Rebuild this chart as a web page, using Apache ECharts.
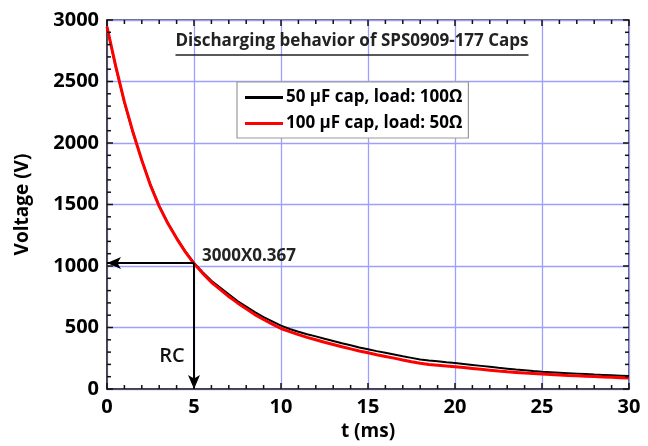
<!DOCTYPE html>
<html><head><meta charset="utf-8">
<script src="https://cdn.jsdelivr.net/npm/echarts@6/dist/echarts.min.js"></script>
<style>html,body{margin:0;padding:0;background:#fff}#c{width:648px;height:446px}</style>
</head><body><div id="c"></div>
<script>
// time samples (ms)
const tValues = [0,0.5,1,1.5,2,2.5,3,3.5,4,4.5,5,5.5,6,6.5,7,7.5,8,8.5,9,9.5,10,10.5,11,11.5,12,12.5,13,13.5,14,14.5,15,15.5,16,16.5,17,17.5,18,18.5,19,19.5,20,20.5,21,21.5,22,22.5,23,23.5,24,24.5,25,25.5,26,26.5,27,27.5,28,28.5,29,29.5,30];
// 50 uF cap, load 100 ohm (V)
const blackValues = [2940,2620,2330,2080,1860,1660,1490,1350,1230,1120,1025,950,880,825,770,715,670,625,585,550,515,488,465,445,428,408,390,372,355,338,323,308,294,280,266,253,240,232,225,218,212,204,196,188,180,172,165,158,152,146,141,137,133,129,125,121,117,114,111,108,105];
// 100 uF cap, load 50 ohm (V)
const redValues = [2945,2625,2335,2085,1860,1655,1485,1345,1225,1115,1020,940,868,810,752,700,652,605,565,528,492,466,442,420,400,380,362,343,326,309,294,279,265,251,236,222,210,200,194,187,181,174,167,160,153,146,140,135,130,126,122,118,114,110,107,104,101,98,95,92,89];
const seriesNames = ['50 \u03bcF cap, load: 100\u03a9', '100 \u03bcF cap, load: 50\u03a9'];
const xTicks = {min:0, max:30, interval:5, minor:1};
const yTicks = {min:0, max:3000, interval:500, minor:100};
// annotation: RC point
const rcPoint = [5, 1025];
const rcLabel = '3000X0.367';
const rcText = 'RC';
const titleText = 'Discharging behavior of SPS0909-177 Caps';

const FONT = 'Open Sans';
const GRID = {left:107, right:19, top:20, bottom:57};
const chart = echarts.init(document.getElementById('c'));
const pair = arr => tValues.map((t,i)=>[t, arr[i]]);
const gridLine = {show:true, lineStyle:{color:'#9e9eff', width:1.3}};
const axisLine = {show:true, onZero:false, lineStyle:{color:'#333', width:1.5}};

// inward tick marks on all four sides of the plot frame (frame decoration)
const W = 648, H = 446;
const fx0 = GRID.left, fx1 = W - GRID.right, fy0 = GRID.top, fy1 = H - GRID.bottom;
const px = x => fx0 + (x - xTicks.min) / (xTicks.max - xTicks.min) * (fx1 - fx0);
const py = y => fy1 - (y - yTicks.min) / (yTicks.max - yTicks.min) * (fy1 - fy0);
const graphics = [];
const tickStyle = {stroke:'#111', lineWidth:1.5};
const nX = Math.round((xTicks.max - xTicks.min) / xTicks.minor);
const kX = Math.round(xTicks.interval / xTicks.minor);
for (let i = 0; i <= nX; i++) {
  const len = (i % kX === 0) ? 6 : 4;
  const X = px(xTicks.min + i * xTicks.minor);
  graphics.push({type:'line', z:10, silent:true, shape:{x1:X, y1:fy1, x2:X, y2:fy1 - len}, style:tickStyle});
  graphics.push({type:'line', z:10, silent:true, shape:{x1:X, y1:fy0, x2:X, y2:fy0 + len}, style:tickStyle});
}
const nY = Math.round((yTicks.max - yTicks.min) / yTicks.minor);
const kY = Math.round(yTicks.interval / yTicks.minor);
for (let i = 0; i <= nY; i++) {
  const len = (i % kY === 0) ? 6 : 4;
  const Y = py(yTicks.min + i * yTicks.minor);
  graphics.push({type:'line', z:10, silent:true, shape:{x1:fx0, y1:Y, x2:fx0 + len, y2:Y}, style:tickStyle});
  graphics.push({type:'line', z:10, silent:true, shape:{x1:fx1, y1:Y, x2:fx1 - len, y2:Y}, style:tickStyle});
}
// title with underline
const measure = document.createElement('canvas').getContext('2d');
measure.font = 'bold 17px "' + FONT + '"';
const tw = measure.measureText(titleText).width;
const tcx = 352, tTop = 33;
graphics.push({type:'text', z:10, x:tcx, y:tTop,
  style:{text:titleText, fontFamily:FONT, fontWeight:'bold', fontSize:17, fill:'#222', align:'center', verticalAlign:'top'}});
graphics.push({type:'line', z:10, shape:{x1:tcx - tw/2, y1:tTop+22, x2:tcx + tw/2, y2:tTop+22}, style:{stroke:'#222', lineWidth:1.5}});

chart.setOption({
  animation:false,
  backgroundColor:'#fff',
  grid:Object.assign({show:true, borderColor:'#333', borderWidth:1.5, backgroundColor:'transparent'}, GRID),
  xAxis:{type:'value', min:xTicks.min, max:xTicks.max, interval:xTicks.interval,
      name:'t (ms)', nameLocation:'middle', nameGap:33,
      nameTextStyle:{fontFamily:FONT, fontWeight:'bold', fontSize:19, color:'#000'},
      axisLine:axisLine, axisTick:{show:false},
      axisLabel:{fontFamily:FONT, fontWeight:'bold', fontSize:20, color:'#000', margin:8, formatter:v=>String(v)},
      splitLine:gridLine},
  yAxis:{type:'value', min:yTicks.min, max:yTicks.max, interval:yTicks.interval,
      name:'Voltage (V)', nameLocation:'middle', nameGap:75, nameRotate:90,
      nameTextStyle:{fontFamily:FONT, fontWeight:'bold', fontSize:19, color:'#000'},
      axisLine:axisLine, axisTick:{show:false},
      axisLabel:{fontFamily:FONT, fontWeight:'bold', fontSize:20, color:'#000', margin:8, formatter:v=>String(v)},
      splitLine:gridLine},
  legend:{
    orient:'vertical', left:237, top:82, padding:[7,6,6,8], itemGap:9,
    backgroundColor:'#fff', borderColor:'#999', borderWidth:1.2,
    itemWidth:38, itemHeight:3, icon:'rect',
    textStyle:{fontFamily:FONT, fontWeight:'bold', fontSize:17, color:'#000', padding:[0,0,0,-2]},
    data:seriesNames
  },
  graphic:graphics,
  series:[
    {name:seriesNames[0], type:'line', data:pair(blackValues), showSymbol:false, z:2,
      lineStyle:{color:'#000', width:2}, itemStyle:{color:'#000'},
      markLine:{silent:true, symbol:['none','arrow'], symbolSize:[9,14],
        lineStyle:{color:'#000', width:2, type:'solid'}, label:{show:false},
        data:[
          [{coord:rcPoint},{coord:[0, rcPoint[1]]}],
          [{coord:rcPoint},{coord:[rcPoint[0], 0]}]
        ]},
      markPoint:{silent:true, symbolSize:0,
        data:[
          {coord:[5.46,1081], label:{show:true, position:'inside', align:'left', verticalAlign:'middle', formatter:rcLabel,
             fontFamily:FONT, fontWeight:'bold', fontSize:17, color:'#222'}},
          {coord:[3.74,263], label:{show:true, position:'inside', align:'center', verticalAlign:'middle', formatter:rcText,
             fontFamily:FONT, fontWeight:600, fontSize:20, color:'#111'}}
        ]}
    },
    {name:seriesNames[1], type:'line', data:pair(redValues), showSymbol:false, z:3,
      lineStyle:{color:'#ff0000', width:3}, itemStyle:{color:'#ff0000'}}
  ]
});
</script></body></html>
